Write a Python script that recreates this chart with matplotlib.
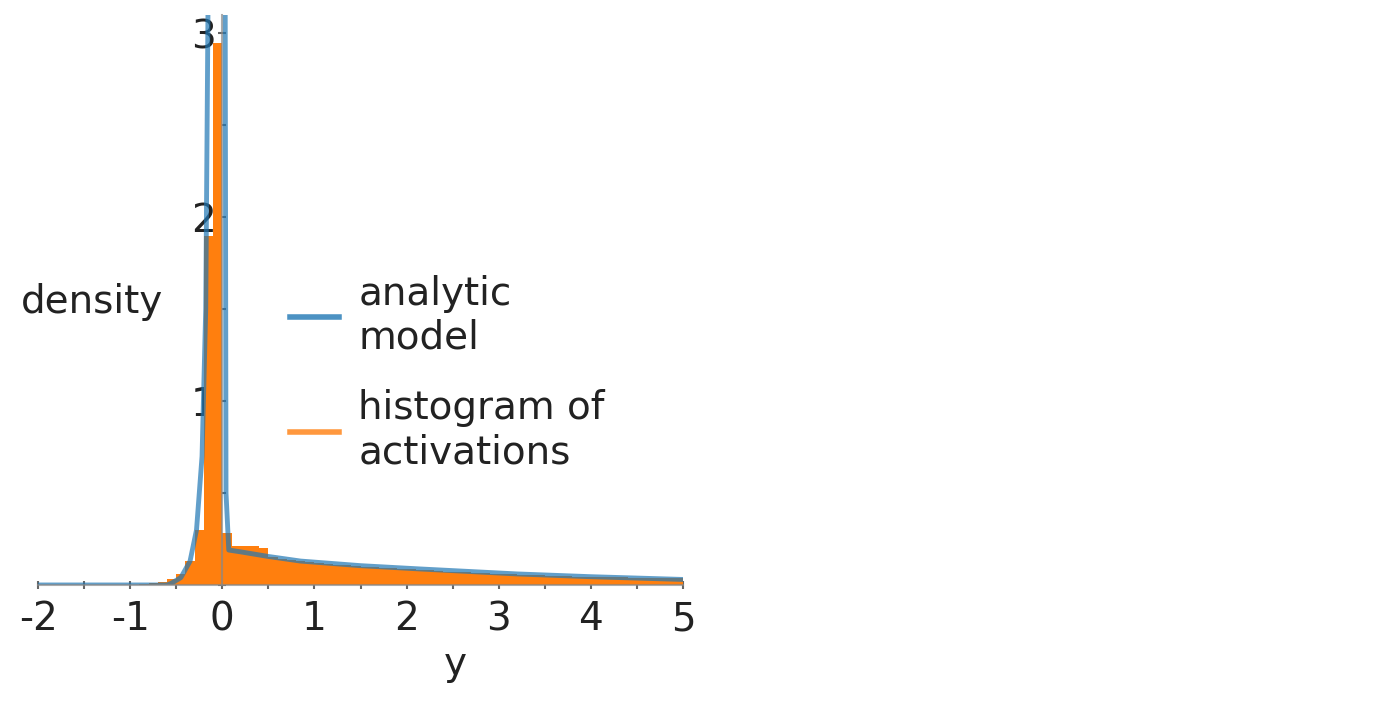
import numpy as np
import matplotlib.pyplot as plt
from matplotlib.lines import Line2D
from matplotlib.ticker import MultipleLocator

plt.rcParams['font.family'] = 'DejaVu Sans'
plt.rcParams['axes.unicode_minus'] = False

# histogram of activations, bins of 0.1 from -1 to 5
hist_edges = np.round(np.arange(-1.0, 5.0001, 0.1), 1)
hist_density = [0.0, 0.005, 0.01, 0.015, 0.03, 0.06, 0.13, 0.30, 1.90, 2.95,
                0.28, 0.21, 0.21, 0.21, 0.20, 0.15, 0.14, 0.135, 0.13, 0.125,
                0.12, 0.115, 0.11, 0.107, 0.103, 0.10, 0.097, 0.094, 0.091, 0.088,
                0.085, 0.082, 0.079, 0.076, 0.073, 0.071, 0.069, 0.066, 0.064, 0.062,
                0.06, 0.058, 0.056, 0.054, 0.052, 0.050, 0.049, 0.047, 0.046, 0.045,
                0.044, 0.043, 0.042, 0.041, 0.040, 0.039, 0.038, 0.038, 0.037, 0.036]

# analytic model curve
model_x = [-2.0, -0.6, -0.55, -0.45, -0.35, -0.28, -0.22, -0.18, -0.15, -0.05, 0.03,
           0.04, 0.07, 0.2, 0.5, 0.85, 1.5, 2.15, 3.2, 4.0, 5.0]
model_y = [0.0, 0.0, 0.01, 0.04, 0.13, 0.3, 0.7, 1.5, 3.5, 6.0, 3.5,
           0.5, 0.19, 0.18, 0.155, 0.13, 0.105, 0.087, 0.06, 0.045, 0.03]

blue = '#1f77b4'
orange = '#ff7f0e'

fig = plt.figure(figsize=(13.98, 7.02), dpi=100)
ax = fig.add_axes([0.0272, 0.1667, 0.4614, 0.812])

ax.stairs(hist_density, hist_edges, fill=True, color=orange, zorder=2)
ax.plot(model_x, model_y, color=blue, alpha=0.7, lw=3.5, zorder=3)

ax.set_xlim(-2, 5)
ax.set_ylim(0, 3.1)

for s in ['top', 'right']:
    ax.spines[s].set_visible(False)
ax.spines['left'].set_position(('data', 0))
for s in ['left', 'bottom']:
    ax.spines[s].set_color('#888888')
    ax.spines[s].set_alpha(0.7)
    ax.spines[s].set_linewidth(1.5)
    ax.spines[s].set_zorder(4)

ax.set_xticks(range(-2, 6))
ax.set_yticks([1, 2, 3])
ax.xaxis.set_minor_locator(MultipleLocator(0.5))
ax.yaxis.set_minor_locator(MultipleLocator(0.5))
ax.tick_params(which='both', direction='inout', length=6, width=1.5,
               color='#666666', labelsize=28, labelcolor='#222222')
ax.tick_params(axis='x', pad=8)
ax.tick_params(axis='y', pad=2)

ax.set_xlabel('y', fontsize=28, color='#222222')
ax.xaxis.set_label_coords(0.6465, -0.105)
ax.set_ylabel('density', fontsize=28, rotation=0, ha='center', va='center',
              color='#222222')
ax.yaxis.set_label_coords(0.084, 0.496)

handles = [Line2D([], [], color=blue, alpha=0.8, lw=4),
           Line2D([], [], color=orange, alpha=0.8, lw=4)]
ax.legend(handles, ['analytic\nmodel', 'histogram of\nactivations'],
          loc='center left', bbox_to_anchor=(290 / 1398, 1 - 373 / 702),
          bbox_transform=fig.transFigure, frameon=False, fontsize=28,
          borderpad=0, borderaxespad=0, handlelength=1.26, handletextpad=0.5,
          labelspacing=0.83, labelcolor='#222222')

fig.savefig('out.png', dpi=100)
